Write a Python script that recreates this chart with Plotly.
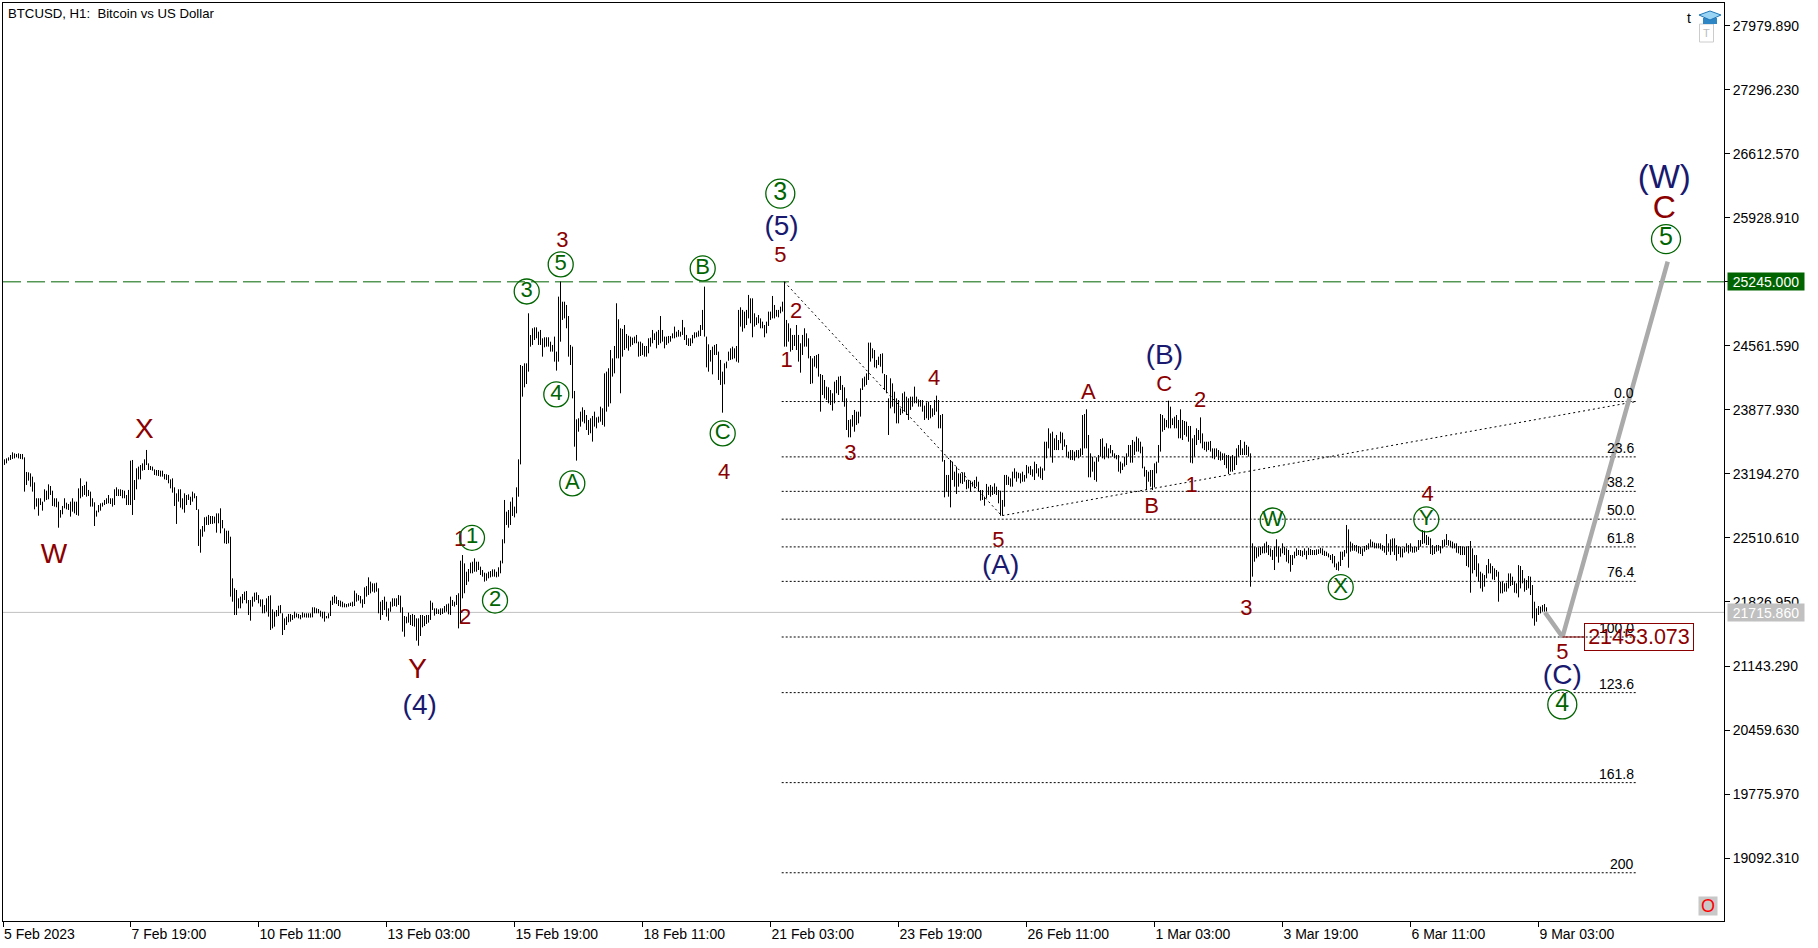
import pandas as pd
import plotly.graph_objects as go

# Hourly bars as (high, low); first bar is 5 Feb 2023 04:00
bars_feb05 = [(23350,23290),(23360,23307),(23371,23336),(23396,23343),(23425,23354),(23414,23360),(23407,23371),(23414,23360),(23407,23354),(23407,23350),
(23371,23005),(23215,23076),(23211,23122),(23200,23058),(23165,23005),(23104,22816),(22934,22845),(22934,22748),(22934,22862),(22898,22802),
(23030,22898),(23015,22916),(23083,22923),(23065,22969),(23015,22852),(22934,22845),(22934,22838),(22898,22620),(22809,22727),(22852,22763),
(22934,22827),(22887,22816),(22873,22809),(22898,22738),(22934,22791),(22898,22773),(22898,22756),(23040,22748),(23147,22934),(23065,22951),
(23076,22969),(23112,22951),(23023,22958),(23005,22845),(22934,22845),(22891,22638),(22802,22738),(22862,22784),(22880,22802),(22887,22845),
(22916,22862),(22934,22873),(22969,22880),(22934,22873),(22934,22845),(23030,22862),(23051,22958),(23030,22958),(23030,22958),(23023,22934),
(23015,22934),(22969,22862),(23023,22862),(23336,22862),(23343,22756),(23129,22916),(23254,23030),(23272,23136),(23289,23136),(23307,23229),
(23350,23236),(23450,23289),(23307,23236),(23279,23236),(23272,23229),(23243,23183),(23236,23176),(23236,23172),(23229,23165),(23229,23165),
(23193,23136),(23190,23129),(23183,23094),(23136,23040),(23147,22994),(23051,22852),(22987,22660),(23030,22898),(23030,22834),(22934,22816),
(22987,22780),(22969,22862),(22976,22916),(22951,22862),(23005,22898),(22987,22934),(22958,22809),(22816,22425),(22603,22353),(22638,22524),
(22731,22578),(22738,22649),(22756,22649),(22745,22660),(22745,22660),(22738,22667),(22773,22567),(22773,22667),(22827,22560),(22702,22613),
(22613,22453),(22588,22446),(22588,22453),(22524,21884),(22079,21830),(21973,21688),(21955,21688),(21866,21759),(21884,21759),(21912,21812),
(21937,21848),(21944,21812),(21848,21688),(21848,21627),(21884,21777),(21926,21830),(21930,21848),(21901,21812),(21855,21777),(21855,21706),
(21794,21706),(21866,21723),(21891,21670),(21898,21528),(21748,21545),(21723,21563),(21741,21670),(21787,21677),(21794,21706),(21706,21474),
(21652,21528),(21670,21581),(21699,21610),(21699,21617),(21688,21635),(21723,21652),(21706,21663),(21699,21652),(21688,21642),(21716,21660),
(21706,21663),(21706,21660),(21706,21660),(21706,21660),(21770,21663),(21770,21706),(21759,21706),(21752,21706),(21734,21670),(21723,21652),
(21723,21617),(21677,21652),(21706,21652),(21841,21677),(21884,21795),(21901,21812),(21884,21805),(21848,21784),(21841,21777),(21830,21770),
(21812,21770),(21805,21770),(21812,21777),(21820,21784),(21830,21777),(21948,21784),(21919,21830),(21901,21841),(21891,21812),(21855,21766),
(21983,21805),(21997,21884),(22090,21901),(22044,21919),(22026,21937),(22026,21926),(22033,21937),(21973,21706),(21830,21635),(21848,21688),
(21884,21741),(21830,21670),(21759,21627),(21830,21723),(21866,21777),(21866,21784),(21866,21777),(21901,21795),(21894,21713),(21770,21510),
(21677,21456),(21670,21599),(21713,21606),(21688,21581),(21699,21570),(21688,21563),(21652,21414),(21652,21360),(21688,21464),(21688,21556),
(21677,21570),(21688,21592),(21688,21606),(21841,21635),(21820,21741),(21759,21681),(21759,21699),(21748,21699),(21759,21688),(21759,21699),
(21784,21713),(21802,21723)]
bars_feb14 = [(21810,21695),(21884,21688),(21848,21784),(21830,21777),(21901,21795),(21920,21545),(22268,21600),(22328,21866),(22239,21920),(22150,22008),
(22179,22044),(22247,22133),(22257,22133),(22293,22150),(22257,22150),(22257,22168),(22204,22115),(22168,22097),(22140,22044),(22133,22054),
(22150,22079),(22157,22090),(22175,22097),(22175,22097),(22150,22090),(22197,22097),(22268,22133),(22496,22239),(22916,22453),(22791,22649),
(22809,22620),(22898,22649),(22944,22745),(22845,22730),(23051,22773),(23350,22951),(24357,23296),(24347,24019),(24375,24119),(24375,24154),
(24909,24286),(24677,24553),(24749,24571),(24759,24624),(24759,24642),(24713,24571),(24731,24571),(24642,24446),(24653,24546),(24653,24553),
(24653,24553),(24606,24500),(24571,24500),(24660,24393),(24500,24297),(25087,24393),(25247,24606),(25033,24838),(25033,24855),(24998,24749),
(24880,24446),(24571,24357),(24553,24001),(24080,23485),(23777,23336),(23788,23645),(23859,23699),(23905,23752),(23877,23734),(23823,23663),
(23770,23610),(23788,23628),(23813,23539),(23859,23699),(23798,23681),(23806,23741),(23912,23752),(23895,23717),(24268,23699),(24286,23859),
(24322,23912),(24517,23948),(24428,24233),(24560,24268),(25016,24428),(24845,24428),(24749,24055),(24742,24446),(24784,24517),(24688,24535),
(24670,24510),(24660,24553),(24649,24571),(24660,24589),(24678,24589),(24606,24446),(24606,24453),(24589,24464),(24560,24446),(24560,24446),
(24642,24482),(24649,24553),(24731,24589),(24695,24624),(24713,24535),(24731,24571),(24880,24589),(24731,24606),(24660,24535),(24660,24571),
(24667,24589),(24667,24606),(24695,24642),(24767,24642),(24713,24653),(24731,24660),(24713,24660),(24838,24678),(24759,24624),(24678,24571),
(24642,24560),(24642,24560),(24678,24589),(24706,24642),(24706,24653),(24724,24660),(24784,24667),(24945,24731),(25194,24660),(24660,24332),
(24578,24286),(24517,24393),(24553,24257),(24571,24464),(24581,24464),(24500,24197),(24411,24144),(24286,23848),(24375,24151),(24393,24322),
(24500,24403),(24535,24411),(24553,24418),(24535,24428),(24560,24393),(24945,24382),(24973,24767),(24945,24713),(24927,24749),(24945,24784),
(25105,24855),(25069,24802),(25069,24653),(24909,24767),(24866,24784),(24891,24802),(24855,24749),(24820,24749),(24784,24653),(24820,24695),
(24927,24774),(24927,24838),(25094,24855),(24998,24855),(24945,24873),(24945,24866),(24980,24909),(25033,24927),(25247,24553),(24838,24553)]
bars_feb21 = [(24802,24606),(24749,24500),(24678,24517),(24678,24560),(24784,24517),(24678,24393),(24589,24275),(24678,24464),(24749,24553),(24695,24553),
(24642,24428),(24453,24154),(24428,24161),(24453,24339),(24464,24322),(24475,24233),(24261,23859),(24250,24037),(24197,24001),(24126,23984),
(24119,23948),(24090,23930),(24055,23870),(24179,23948),(24197,24055),(24233,24037),(24240,24090),(24144,23966),(24119,23912),(24001,23663),
(23770,23585),(23777,23585),(23823,23699),(23877,23645),(23859,23717),(23859,23734),(24108,23806),(24215,24090),(24233,24126),(24268,24144),
(24596,24197),(24596,24393),(24535,24428),(24517,24332),(24411,24322),(24446,24357),(24475,24339),(24482,24268),(24261,24090),(24250,24055),
(24001,23610),(24215,23894),(24161,23912),(24072,23841),(24001,23734),(23983,23734),(23894,23823),(24055,23841),(24072,23859),(24019,23823),
(24001,23770),(24019,23877),(24019,23912),(24126,23948),(24019,23948),(23990,23912),(23983,23912),(23983,23859),(23923,23770),(23958,23788),
(23966,23770),(23930,23788),(23894,23805),(23983,23823),(24030,23859),(23983,23681),(23823,23681),(23834,23325),(23343,22944),(23183,23005),
(23183,22951),(23343,22837),(23325,23129),(23218,23058),(23272,22980),(23200,23058),(23200,23094),(23211,23087),(23211,23111),(23129,23030),
(23129,23040),(23122,23005),(23111,23058),(23129,23040),(23165,23058),(23111,23005),(23022,22909),(23022,22916),(22951,22855),(23087,22933),
(23058,22969),(23076,22951),(23058,22969),(23094,22980),(23058,22969),(23022,22880),(23015,22748),(22916,22748),(23183,22844),(23183,23076),
(23165,23076),(23147,23058),(23218,23058),(23254,23147),(23218,23111),(23207,23147),(23200,23094),(23218,23111),(23183,23111),(23289,23147),
(23272,23200),(23279,23183),(23243,23165),(23325,23129),(23300,23200),(23254,23165),(23272,23147),(23254,23129),(23538,23229),(23538,23361),
(23681,23467),(23627,23378),(23645,23314),(23574,23449),(23610,23449),(23556,23449),(23645,23521),(23635,23449),(23563,23485),(23503,23378),
(23432,23361),(23449,23343),(23449,23343),(23432,23336),(23449,23371),(23449,23361),(23467,23378),(23823,23396),(23834,23467),(23884,23467),
(23610,23158),(23414,23158),(23378,23218),(23325,23129),(23371,23111),(23396,23325),(23567,23378),(23574,23361),(23485,23350),(23521,23378),
(23467,23361),(23503,23414),(23449,23378),(23414,23361),(23396,23350),(23396,23218),(23325,23200),(23307,23236),(23378,23272),(23414,23289),
(23503,23378),(23503,23314),(23556,23314),(23538,23396),(23592,23432),(23574,23432),(23538,23414),(23485,23254),(23272,23165),(23236,23022),
(23218,23111),(23236,23058),(23236,23022),(23307,23051),(23325,23200),(23503,23314),(23834,23432),(23823,23645),(23788,23663),(23770,23692),
(23976,23681),(23912,23681),(23788,23716),(23805,23681),(23823,23681),(23770,23574),(23884,23574),(23770,23556),(23759,23610),(23752,23592)]
bars_mar01 = [(23706,23538),(23706,23314),(23574,23307),(23610,23378),(23681,23503),(23663,23556),(23798,23521),(23627,23467),(23538,23449),(23538,23432),
(23538,23449),(23546,23432),(23467,23361),(23467,23350),(23467,23378),(23449,23343),(23432,23336),(23414,23343),(23414,23289),(23396,23254),
(23396,23193),(23378,23218),(23396,23218),(23378,23236),(23467,23289),(23503,23378),(23556,23396),(23467,23396),(23538,23396),(23503,23396),
(23485,23378),(23414,21990),(22453,22097),(22417,22257),(22410,22293),(22410,22311),(22417,22328),(22417,22346),(22453,22346),(22471,22353),
(22435,22328),(22400,22311),(22382,22275),(22417,22168),(22496,22311),(22417,22247),(22400,22311),(22453,22346),(22417,22328),(22400,22257),
(22382,22240),(22328,22150),(22328,22222),(22364,22293),(22400,22318),(22382,22328),(22382,22318),(22374,22310),(22399,22328),(22374,22282),
(22406,22328),(22392,22328),(22382,22328),(22382,22328),(22389,22328),(22389,22339),(22406,22346),(22399,22328),(22374,22318),(22364,22318),
(22346,22303),(22328,22275),(22339,22239),(22318,22197),(22239,22168),(22257,22161),(22364,22211),(22364,22275),(22382,22310),(22649,22346),
(22602,22193),(22471,22364),(22453,22374),(22435,22374),(22435,22364),(22424,22346),(22417,22339),(22399,22318),(22424,22364),(22435,22382),
(22453,22389),(22495,22417),(22471,22410),(22460,22399),(22453,22399),(22453,22399),(22453,22389),(22435,22374),(22424,22353),(22552,22328),
(22453,22364),(22495,22328),(22506,22364),(22506,22328),(22435,22268),(22417,22339),(22417,22303),(22399,22303),(22417,22353),(22453,22364),
(22435,22346),(22453,22364),(22417,22353),(22417,22353),(22417,22364),(22488,22382),(22488,22417),(22595,22446),(22588,22453),(22542,22435),
(22524,22435),(22506,22339),(22435,22328),(22417,22339),(22435,22364),(22435,22374),(22424,22346),(22488,22399),(22495,22417),(22552,22435),
(22488,22428),(22481,22417),(22471,22399),(22453,22399),(22453,22353),(22424,22346),(22424,22328),(22417,22328),(22417,22328),(22417,22211),
(22424,22197),(22478,21926),(22399,22132),(22328,22168),(22328,22097),(22239,22044),(22150,21972),(22132,21937),(22115,21990),(22221,22079),
(22286,22132),(22239,22132),(22211,22068),(22186,22061),(22168,22097),(22150,21830),(22044,21919),(22044,21919),(22026,21937),(22033,21937),
(22132,21972),(22132,21997),(22097,22008),(22044,21926),(22026,21919),(22221,21876),(22211,21972),(22168,22026),(22079,21937),(22061,21955),
(22104,21972),(22097,21901),(22008,21652),(21830,21574),(21759,21616),(21784,21688),(21777,21705),(21794,21723),(21805,21723),(21770,21705)]

chart_start = "2023-02-05 03:00"
x_tick_labels = ["5 Feb 2023", "7 Feb 19:00", "10 Feb 11:00", "13 Feb 03:00", "15 Feb 19:00", "18 Feb 11:00", "21 Feb 03:00",
                 "23 Feb 19:00", "26 Feb 11:00", "1 Mar 03:00", "3 Mar 19:00", "6 Mar 11:00", "9 Mar 03:00"]
y_tick_values = [27979.89, 27296.23, 26612.57, 25928.91, 25245.25, 24561.59, 23877.93, 23194.27, 22510.61, 21826.95, 21143.29, 20459.63, 19775.97, 19092.31]
y_tick_labels = ["27979.890", "27296.230", "26612.570", "25928.910", "", "24561.590", "23877.930", "23194.270", "22510.610", "21826.950", "21143.290", "20459.630", "19775.970", "19092.310"]

resistance_price = 25245.0
current_price = 21715.86
target_price = 21453.073

fib_names = ["0.0", "23.6", "38.2", "50.0", "61.8", "76.4", "100.0", "123.6", "161.8", "200"]
fib_prices = [23967, 23376, 23008, 22711, 22415, 22047, 21453, 20859, 19898, 18936]
fib_start_hour, fib_end_hour = 389.6, 816.75

trend_hours = [390.9, 499.6, 816.75]
trend_prices = [25245, 22748, 23967]
forecast_hours = [771.25, 780, 832.6]
forecast_prices = [21716, 21453, 25460]

# wave labels: text, hours since chart start, price
red_small = [("3",279.9,25675),("5",388.9,25518),("2",396.75,24920),("1",392.1,24394),("3",423.9,23397),("4",360.75,23204),
             ("1",228.75,22486),("2",231.25,21653),("4",465.75,24202),("5",497.9,22475),("A",542.9,24048),("C",580.9,24138),
             ("2",598.75,23970),("B",574.6,22831),("1",594.6,23062),("3",621.9,21746),("4",712.6,22969),("5",779.9,21272)]
red_large = [("W",25.75,22322),("X",70.9,23650),("Y",207.5,21087)]
red_top = [("C",830.9,26017)]
navy_labels = [("(4)",208.6,20703),("(5)",389.5,25817),("(A)",499.1,22197),("(B)",580.9,24440),("(C)",779.9,21023)]
navy_top = [("(W)",830.9,26340)]
green_small = [("3",262.1,25142),("5",279.1,25431),("B",350.1,25388),("4",276.9,24043),("A",284.9,23093),("C",360.1,23626),
               ("1",234.75,22512),("2",246.25,21842),("W",635.1,22697),("X",669.1,21985),("Y",711.9,22708)]
green_large = [("3",388.9,26187),("4",779.9,20733),("5",831.75,25701)]

FONT = "Liberation Sans"
GREEN, RED, NAVY, GREY = "#006400", "#8B0000", "#191970", "#C0C0C0"
t0 = pd.Timestamp(chart_start)
def at(h):
    return t0 + pd.Timedelta(hours=h)

bars = bars_feb05 + bars_feb14 + bars_feb21 + bars_mar01
bar_x, bar_y = [], []
for i, (hi, lo) in enumerate(bars, start=1):
    bar_x += [at(i), at(i), None]
    bar_y += [hi, lo, None]

fig = go.Figure()
fig.add_hline(y=current_price, line=dict(color=GREY, width=1), layer="below")
fig.add_hline(y=resistance_price, line=dict(color=GREEN, width=1, dash="18px,6px"), layer="below")
for p in fib_prices:
    fig.add_shape(type="line", x0=at(fib_start_hour), x1=at(fib_end_hour), y0=p, y1=p, layer="below",
                  line=dict(color="black", width=1, dash="2px,2px"))

fig.add_trace(go.Scatter(x=bar_x, y=bar_y, mode="lines", line=dict(color="black", width=1), hoverinfo="skip"))
fig.add_trace(go.Scatter(x=[at(h) for h in trend_hours], y=trend_prices, mode="lines",
                         line=dict(color="black", width=1, dash="2px,3px"), hoverinfo="skip"))
fig.add_trace(go.Scatter(x=[at(h) for h in forecast_hours], y=forecast_prices, mode="lines",
                         line=dict(color="#AAAAAA", width=4.5), hoverinfo="skip"))
fig.add_trace(go.Scatter(x=[at(780), at(791)], y=[target_price, target_price], mode="lines",
                         line=dict(color=RED, width=1), hoverinfo="skip"))

def text_trace(items, color, size, circle=0):
    fig.add_trace(go.Scatter(
        x=[at(i[1]) for i in items], y=[i[2] for i in items], text=[i[0] for i in items],
        mode="markers+text" if circle else "text", textposition="middle center",
        textfont=dict(family=FONT, size=size, color=color), hoverinfo="skip",
        marker=dict(symbol="circle", size=circle, color="rgba(0,0,0,0)", line=dict(color=color, width=1.3)) if circle else None,
    ))
text_trace(red_small, RED, 22)
text_trace(red_large, RED, 28)
text_trace(red_top, RED, 32)
text_trace(navy_labels, NAVY, 28)
text_trace(navy_top, NAVY, 33)
text_trace(green_small, GREEN, 22, circle=25)
text_trace(green_large, GREEN, 25, circle=29)

# pixel helpers for chart furniture that sits outside the data
L, R, T, B = 3, 1724, 3, 921
def px(x): return (x - L) / (R - L)
def py(y): return (B - y) / (B - T)

ann = []
for name, p in zip(fib_names, fib_prices):
    ann.append(dict(x=at(fib_end_hour), y=p, xref="x", yref="y", text=name, showarrow=False, xanchor="right", yanchor="bottom",
                    yshift=-1, font=dict(family=FONT, size=14, color="black")))
ann.append(dict(x=px(1584), y=target_price, xref="paper", yref="y", text=f"{target_price:.3f}", showarrow=False, xanchor="left", yanchor="middle",
                width=108, height=26, bgcolor="rgba(255,255,255,0)", bordercolor=RED, borderwidth=1, borderpad=0,
                font=dict(family=FONT, size=21.5, color=RED)))
ann.append(dict(x=px(1727), y=resistance_price, xref="paper", yref="y", text="25245.000", showarrow=False, xanchor="left", yanchor="middle",
                width=76, height=17, bgcolor=GREEN, borderpad=0, font=dict(family=FONT, size=14, color="white")))
ann.append(dict(x=px(1727), y=current_price, xref="paper", yref="y", text="21715.860", showarrow=False, xanchor="left", yanchor="middle",
                width=76, height=17, bgcolor=GREY, borderpad=0, font=dict(family=FONT, size=14, color="white")))
ann.append(dict(x=px(6), y=py(13), xref="paper", yref="paper", text="BTCUSD, H1:  Bitcoin vs US Dollar", showarrow=False,
                xanchor="left", yanchor="middle", font=dict(family=FONT, size=13.2, color="black")))
ann.append(dict(x=px(1689), y=py(18), xref="paper", yref="paper", text="t", showarrow=False, xanchor="center", yanchor="middle",
                font=dict(family=FONT, size=14, color="black")))
ann.append(dict(x=px(1706.5), y=py(33), xref="paper", yref="paper", text="T", showarrow=False, xanchor="center", yanchor="middle",
                font=dict(family=FONT, size=11, color="#BBBBBB")))
ann.append(dict(x=px(1708), y=py(906), xref="paper", yref="paper", text="O", showarrow=False, xanchor="center", yanchor="middle",
                width=18, height=18, bgcolor="#C8C8C8", borderpad=0, font=dict(family=FONT, size=18, color="#FF0000")))

def path(points):
    return "M " + " L ".join(f"{px(a):.5f},{py(b):.5f}" for a, b in points) + " Z"
shapes = [
    dict(type="rect", xref="paper", yref="paper", x0=px(1699.5), x1=px(1713.5), y0=py(42), y1=py(24), line=dict(color="#CCCCCC", width=1)),
    dict(type="path", xref="paper", yref="paper", path=path([(1703, 18), (1717, 18), (1717, 24), (1703, 24)]), fillcolor="#2F86C5", line=dict(width=0)),
    dict(type="path", xref="paper", yref="paper", path=path([(1699, 15), (1710, 11), (1721, 15), (1710, 20)]), fillcolor="#9AD4F5", line=dict(color="#1F78B8", width=1)),
]

first_tick = [at(0.25)] + [at(64 * k) for k in range(1, len(x_tick_labels))]
fig.update_layout(
    width=1818, height=948, margin=dict(l=L, r=1818 - R, t=T, b=948 - B),
    plot_bgcolor="white", paper_bgcolor="white", showlegend=False, annotations=ann,
    xaxis=dict(type="date", range=[at(0.25), at(860.75)], tickmode="array",
               tickvals=first_tick, ticktext=x_tick_labels,
               ticks="outside", ticklen=5, tickcolor="black", tickwidth=1, ticklabelposition="outside right",
               showgrid=False, zeroline=False, showline=True, linecolor="black", linewidth=1, mirror=True,
               tickfont=dict(family=FONT, size=14, color="black")),
    yaxis=dict(side="right", range=[18420.8, 28222], tickmode="array", tickvals=y_tick_values, ticktext=y_tick_labels,
               ticks="outside", ticklen=5, tickcolor="black", tickwidth=1,
               showgrid=False, zeroline=False, showline=True, linecolor="black", linewidth=1, mirror=True,
               tickfont=dict(family=FONT, size=14, color="black")),
)
for s in shapes:
    fig.add_shape(**s)

fig.write_html("out.html", config=dict(displayModeBar=False),
               post_script="document.body.style.margin='0';document.documentElement.style.overflow='hidden';")
